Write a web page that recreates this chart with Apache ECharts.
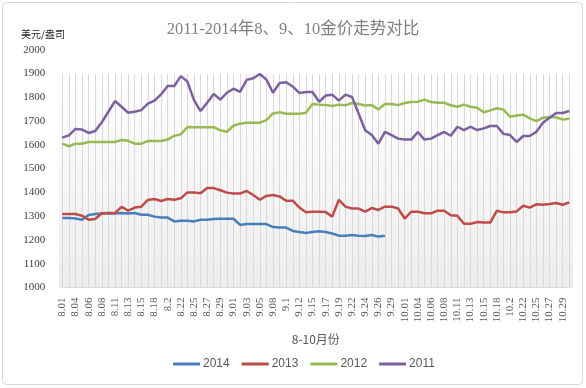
<!DOCTYPE html>
<html>
<head>
<meta charset="utf-8">
<script src="https://cdn.jsdelivr.net/npm/echarts@6/dist/echarts.min.js"></script>
<style>
html,body{margin:0;padding:0;background:#fff;}
#chart{width:586px;height:388px;}
</style>
</head>
<body>
<div id="chart"></div>
<script>
const titleText = '2011-2014年8、9、10金价走势对比';
const unitText = '美元/盎司';
const xAxisName = '8-10月份';
const seriesNames = ['2014', '2013', '2012', '2011'];
const yMin = 1000, yMax = 2000, yStep = 100;

const categories = [
  '8.01','8.02','8.04','8.05','8.06','8.07','8.08','8.09','8.11','8.12','8.13','8.14','8.15','8.16','8.18','8.19','8.2','8.21','8.22','8.23','8.25','8.26','8.27','8.28','8.29','8.3',
  '9.01','9.02','9.03','9.04','9.05','9.06','9.08','9.09','9.1','9.11','9.12','9.13','9.15','9.16','9.17','9.18','9.19','9.2','9.22','9.23','9.24','9.25','9.26','9.27','9.29','9.3',
  '10.01','10.02','10.04','10.05','10.06','10.07','10.08','10.09','10.11','10.12','10.13','10.14','10.15','10.16','10.18','10.19','10.2','10.21','10.22','10.23','10.25','10.26','10.27','10.28','10.29','10.3'
];

const s2014 = [
  1292,1292,1290,1285,1305,1309,1311,1311,1311,1313,1311,1313,1306,1306,1298,1294,1294,1278,1281,1281,
  1278,1285,1285,1288,1289,1289,1289,1263,1267,1267,1267,1267,1254,1252,1252,1238,1233,1229,1233,1237,
  1233,1227,1218,1218,1221,1218,1217,1221,1214,1218
];
const s2013 = [
  1309,1309,1309,1302,1285,1288,1312,1313,1313,1339,1323,1336,1340,1368,1372,1364,1372,1369,1375,1400,
  1400,1396,1418,1418,1409,1399,1395,1395,1406,1389,1369,1385,1389,1383,1365,1365,1336,1316,1319,1319,
  1317,1298,1369,1340,1332,1332,1319,1334,1326,1340,1340,1332,1290,1319,1319,1312,1312,1323,1323,1304,
  1302,1268,1268,1275,1273,1273,1323,1316,1316,1320,1344,1336,1350,1348,1351,1355,1348,1358
];
const s2012 = [
  1605,1594,1605,1605,1612,1612,1612,1612,1612,1620,1617,1605,1605,1616,1616,1616,1622,1638,1644,1675,
  1674,1674,1674,1674,1661,1655,1680,1689,1693,1693,1693,1704,1732,1737,1731,1731,1731,1735,1772,1769,
  1767,1763,1769,1766,1776,1772,1765,1767,1749,1772,1772,1767,1776,1780,1781,1790,1780,1777,1777,1766,
  1760,1769,1760,1756,1737,1745,1754,1748,1718,1723,1727,1711,1700,1714,1716,1716,1706,1710
];
const s2011 = [
  1630,1640,1667,1664,1650,1658,1695,1739,1784,1760,1735,1739,1746,1773,1786,1812,1847,1847,1889,1866,
  1788,1742,1777,1814,1790,1819,1836,1823,1873,1880,1898,1874,1819,1860,1863,1845,1818,1822,1822,1781,
  1807,1811,1786,1811,1801,1732,1661,1641,1605,1654,1641,1626,1622,1622,1654,1622,1626,1641,1654,1638,
  1676,1662,1676,1662,1669,1679,1679,1646,1641,1612,1637,1637,1655,1693,1714,1734,1734,1742
];
const seriesData = [s2014, s2013, s2012, s2011];
const colors = ['#4A7EBB', '#BE4B48', '#98B954', '#7D60A0'];

const serif = "'Liberation Serif', 'DejaVu Serif', 'Noto Sans CJK SC', serif";
const cjk = "'Noto Sans CJK SC', sans-serif";

const chart = echarts.init(document.getElementById('chart'), null, {renderer: 'canvas'});
const gridLeft = 62.3, gridRight = 16.7, gridBottom = 100.5;

chart.setOption({
  animation: false,
  backgroundColor: '#ffffff',
  color: colors,
  title: [
    {text: titleText, left: 'center', top: 16,
     textStyle: {fontFamily: serif, fontSize: 16.5, fontWeight: 'normal', color: '#808080'}},
    {text: unitText, left: 16, top: 24,
     textStyle: {fontFamily: cjk, fontSize: 10, fontWeight: 'normal', color: '#262626'}}
  ],
  graphic: [
    {type: 'rect', z: -10, silent: true,
     shape: {x: 2.5, y: 2.5, width: 580, height: 382, r: 4},
     style: {fill: 'none', stroke: '#d9d9d9', lineWidth: 1}},
    {type: 'rect', z: -5, silent: true,
     shape: {x: 59, y: 74, width: 514, height: 214},
     style: {fill: new echarts.graphic.LinearGradient(0, 0, 0, 1, [
       {offset: 0, color: '#ffffff'}, {offset: 1, color: '#ededed'}])}}
  ],
  legend: {
    data: seriesNames,
    left: 168, top: 353,
    icon: 'rect', itemWidth: 27, itemHeight: 3, itemGap: 12,
    textStyle: {fontFamily: "'Liberation Sans', sans-serif", fontSize: 12, color: '#595959', padding: [0,0,0,-2]}
  },
  grid: [
    {left: gridLeft, right: gridRight, top: 49.7, bottom: gridBottom},
    {left: gridLeft, right: gridRight, top: 74, bottom: gridBottom}
  ],
  xAxis: [
    {type: 'category', gridIndex: 0, data: categories, boundaryGap: false,
     name: xAxisName, nameLocation: 'middle', nameGap: 46,
     nameTextStyle: {fontFamily: cjk, fontSize: 12, color: '#595959'},
     axisLine: {show: true, lineStyle: {color: '#d9d9d9', width: 1}},
     axisTick: {show: false},
     splitLine: {show: false},
     axisLabel: {interval: 1, rotate: 90, margin: 10, fontFamily: serif, fontSize: 11, color: '#595959'}},
    {type: 'category', gridIndex: 1, data: categories, boundaryGap: false,
     axisLine: {show: false}, axisTick: {show: false}, axisLabel: {show: false},
     splitLine: {show: true, interval: 0, lineStyle: {color: '#d9d9d9', width: 1}}}
  ],
  yAxis: [
    {type: 'value', gridIndex: 0, min: yMin, max: yMax, interval: yStep,
     axisLine: {show: false}, axisTick: {show: false}, splitLine: {show: false},
     axisLabel: {margin: 17, fontFamily: serif, fontSize: 11, color: '#404040',
                 formatter: function (v) { return String(v); }}},
    {type: 'value', gridIndex: 1, show: false, min: 0, max: 1, splitLine: {show: false}}
  ],
  series: seriesNames.map((name, i) => ({
    name: name, type: 'line', xAxisIndex: 0, yAxisIndex: 0,
    data: seriesData[i], showSymbol: false, symbol: 'none',
    lineStyle: {width: 2.5, color: colors[i]},
    itemStyle: {color: colors[i]},
    z: 2 + i
  }))
});
</script>
</body>
</html>
